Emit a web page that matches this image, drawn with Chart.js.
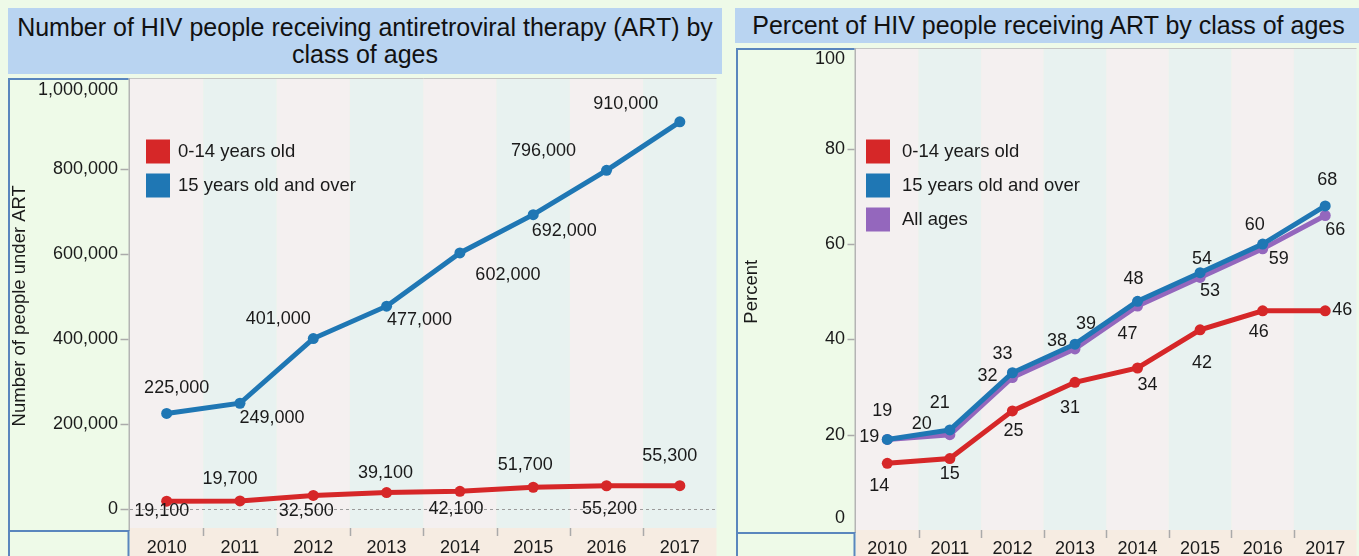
<!DOCTYPE html>
<html>
<head>
<meta charset="utf-8">
<script src="https://cdn.jsdelivr.net/npm/chart.js@4/dist/chart.umd.min.js"></script>
<style>
html,body{margin:0;padding:0;width:1359px;height:556px;overflow:hidden;background:#eefae8;font-family:"Liberation Sans",Arial,sans-serif;position:relative}
.title{position:absolute;background:#b9d4f1;color:#111;text-align:center;font-size:25px;line-height:27px;white-space:nowrap}
#t1{left:8px;top:8px;width:714px;height:66px;box-sizing:border-box;padding-top:6px}
#t2{left:735px;top:8px;width:627px;height:35px;box-sizing:border-box;padding-top:4px}
canvas{position:absolute}
#c1{left:8px;top:78px}
#c2{left:736px;top:48px}
</style>
</head>
<body>
<div class="title" id="t1">Number of HIV people receiving antiretroviral therapy (ART) by<br>class of ages</div>
<div class="title" id="t2">Percent of HIV people receiving ART by class of ages</div>
<canvas id="c1" width="714" height="478"></canvas>
<canvas id="c2" width="626" height="508"></canvas>
<script>
// ---------- DATA ----------
const years = ['2010','2011','2012','2013','2014','2015','2016','2017'];
const seriesNames = ['0-14 years old','15 years old and over','All ages'];
// Number of people under ART
const countChild = [19100, 19700, 32500, 39100, 42100, 51700, 55200, 55300];
const countAdult = [225000, 249000, 401000, 477000, 602000, 692000, 796000, 910000];
const countTicks = [0, 200000, 400000, 600000, 800000, 1000000];
// Percent receiving ART
const pctChild = [14, 15, 25, 31, 34, 42, 46, 46];
const pctAdult = [19, 21, 33, 39, 48, 54, 60, 68];
const pctAll = [19, 20, 32, 38, 47, 53, 59, 66];
const pctTicks = [0, 20, 40, 60, 80, 100];

// ---------- STYLES ----------
const RED = '#d62728', BLUE = '#1f77b4', PURPLE = '#9467bd';
const TXT = '#1a1a1a';
const FONT = '"Liberation Sans", Arial, sans-serif';
const LBL = 18;
const LEG = 18.5;
// label offsets (dx, dy) in pixels relative to each point
const offCountChild = [[-5,10],[-10,-22],[-7,16],[-1,-20],[-4,18],[-8,-22],[3,23],[-10,-30]];
const offCountAdult = [[10,-25],[32,15],[-35,-20],[33,14],[48,22],[31,16],[-63,-19],[-54,-18]];
const offPctChild = [[-8,23],[0,16],[1,20],[-5,26],[10,17],[2,33],[-4,21],[17,-1]];
const offPctAdult = [[-5,-28],[-10,-27],[-10,-19],[11,-20],[-4,-22],[2,-14],[-8,-19],[2,-26]];
const offPctAll = [[-18,-2],[-28,-11],[-25,-1],[-18,-8],[-10,28],[10,14],[16,10],[10,15]];

const fmt = v => v.toLocaleString('en-US');

function line(label, data, color, offs) {
  return {label, data, borderColor: color, backgroundColor: color, borderWidth: 5,
    pointRadius: 5.5, pointHoverRadius: 5.5, pointBorderWidth: 0, tension: 0,
    offs};
}

const decor = {
  id: 'decor',
  beforeDraw(chart, args, o) {
    const {ctx, chartArea: a, scales: {x, y}} = chart;
    const H = chart.height;
    ctx.save();
    ctx.fillStyle = '#eefae8';
    ctx.fillRect(0, 0, a.left, H);
    const n = chart.data.labels.length;
    const w = (a.right - a.left) / n;
    for (let i = 0; i < n; i++) {
      const cx = x.getPixelForValue(i);
      ctx.fillStyle = i % 2 ? '#e8f2f0' : '#f4f0f0';
      ctx.fillRect(cx - w / 2, 0, w, a.bottom);
    }
    ctx.fillStyle = '#f6ece2';
    ctx.fillRect(a.left, a.bottom, a.right - a.left, H - a.bottom);
    // separators in x row
    ctx.strokeStyle = '#aaaaaa'; ctx.lineWidth = 1.5;
    for (let i = 1; i < n; i++) {
      const bx = Math.round(x.getPixelForValue(i) - w / 2) + 0.5;
      ctx.beginPath(); ctx.moveTo(bx, a.bottom); ctx.lineTo(bx, a.bottom + 8); ctx.stroke();
    }
    // plot top and left lines
    ctx.strokeStyle = '#c4c4c4'; ctx.lineWidth = 1;
    ctx.beginPath(); ctx.moveTo(a.left, 0.5); ctx.lineTo(a.right, 0.5); ctx.stroke();
    ctx.strokeStyle = '#b4b4b4'; ctx.lineWidth = 1.5;
    ctx.beginPath(); ctx.moveTo(a.left - 0.75, 0); ctx.lineTo(a.left - 0.75, a.bottom + 3); ctx.stroke();
    // blue cell borders
    ctx.strokeStyle = '#5a86bd'; ctx.lineWidth = 2;
    ctx.beginPath();
    ctx.moveTo(a.left - 1.5, 1); ctx.lineTo(1, 1); ctx.lineTo(1, H);
    ctx.moveTo(0, a.bottom + 3); ctx.lineTo(a.left - 1.5, a.bottom + 3); ctx.lineTo(a.left - 1.5, H);
    ctx.stroke();
    // zero dashed line
    if (o.zeroLine) {
      const zy = Math.round(y.getPixelForValue(0)) + 0.5;
      ctx.strokeStyle = '#9a9a9a'; ctx.lineWidth = 1; ctx.setLineDash([3, 3]);
      ctx.beginPath(); ctx.moveTo(a.left, zy); ctx.lineTo(a.right, zy); ctx.stroke();
      ctx.setLineDash([]);
    }
    ctx.restore();
  },
  afterDatasetsDraw(chart, args, o) {
    const {ctx, chartArea: a, scales: {x, y}} = chart;
    ctx.save();
    ctx.fillStyle = TXT;
    ctx.font = LBL + 'px ' + FONT;
    // y tick labels and marks
    ctx.textAlign = 'right'; ctx.textBaseline = 'middle';
    o.yTicks.forEach(v => {
      const py = y.getPixelForValue(v);
      let ty = Math.min(Math.max(py, a.top + o.clampTop), a.bottom - o.clampBottom);
      ctx.fillText(o.tickFmt(v), a.left - o.labelGap, ty);
      if (o.markTicks.includes(v)) {
        ctx.strokeStyle = '#aaaaaa'; ctx.lineWidth = 1.5;
        ctx.beginPath(); ctx.moveTo(a.left - o.markLen - 1.5, Math.round(py) + 0.5); ctx.lineTo(a.left - 1.5, Math.round(py) + 0.5); ctx.stroke();
      }
    });
    // x labels
    ctx.textAlign = 'center'; ctx.textBaseline = 'middle';
    chart.data.labels.forEach((l, i) => ctx.fillText(l, x.getPixelForValue(i), a.bottom + o.xLabelDy));
    // axis title
    ctx.save();
    ctx.translate(o.axisTitleX, (a.top + a.bottom) / 2 + o.axisTitleDy);
    ctx.rotate(-Math.PI / 2);
    ctx.font = '18.5px ' + FONT;
    ctx.fillText(o.axisTitle, 0, 0);
    ctx.restore();
    // data labels
    ctx.font = LBL + 'px ' + FONT;
    chart.data.datasets.forEach((ds, di) => {
      const meta = chart.getDatasetMeta(di);
      meta.data.forEach((pt, i) => {
        const [dx, dy] = ds.offs[i];
        ctx.fillText(o.valFmt(ds.data[i]), pt.x + dx, pt.y + dy);
      });
    });
    // legend
    ctx.textAlign = 'left';
    ctx.font = LEG + 'px ' + FONT;
    o.legendOrder.forEach((di, k) => {
      const ds = chart.data.datasets[di];
      const lx = a.left + o.legX, ly = a.top + o.legY + k * 34;
      ctx.fillStyle = ds.borderColor;
      ctx.fillRect(lx, ly, 24, 24);
      ctx.fillStyle = TXT;
      ctx.fillText(ds.label, lx + o.legTextDx, ly + 12);
    });
    ctx.restore();
  }
};

function build(id, datasets, yMin, yMax, yWidth, xHeight, padRight, opts) {
  return new Chart(document.getElementById(id), {
    type: 'line',
    data: {labels: years, datasets},
    options: {
      responsive: false, animation: false, devicePixelRatio: 1,
      layout: {padding: {top: 1, right: padRight, left: 0, bottom: 0}},
      plugins: {legend: {display: false}, tooltip: {enabled: false}, decor: opts},
      scales: {
        x: {type: 'category', offset: true, grid: {display: false}, border: {display: false},
            ticks: {display: false}, afterFit: s => { s.height = xHeight; }},
        y: {min: yMin, max: yMax, grid: {display: false}, border: {display: false},
            ticks: {display: false}, afterFit: s => { s.width = yWidth; }}
      }
    },
    plugins: [decor]
  });
}

build('c1', [
  line(seriesNames[0], countChild, RED, offCountChild),
  line(seriesNames[1], countAdult, BLUE, offCountAdult)
], -44000, 1000000, 122, 28, 0, {
  zeroLine: true, yTicks: countTicks, markTicks: [0, 200000, 400000, 600000, 800000],
  tickFmt: fmt, valFmt: fmt, clampTop: 7, clampBottom: 11, labelGap: 12, markLen: 8,
  xLabelDy: 20, axisTitle: 'Number of people under ART', axisTitleX: 12, axisTitleDy: 0,
  legendOrder: [0, 1], legX: 16, legY: 56, legTextDx: 32
});

build('c2', [
  line(seriesNames[0], pctChild, RED, offPctChild),
  line(seriesNames[1], pctAdult, BLUE, offPctAdult),
  line(seriesNames[2], pctAll, PURPLE, offPctAll)
], 0, 100, 120, 26, 0, {
  zeroLine: false, yTicks: pctTicks, markTicks: [20, 40, 60, 80],
  tickFmt: v => String(v), valFmt: v => String(v), clampTop: 6, clampBottom: 12, labelGap: 11, markLen: 7,
  xLabelDy: 19, axisTitle: 'Percent', axisTitleX: 16, axisTitleDy: 0,
  legendOrder: [0, 1, 2], legX: 10, legY: 86, legTextDx: 36
});
</script>
</body>
</html>
